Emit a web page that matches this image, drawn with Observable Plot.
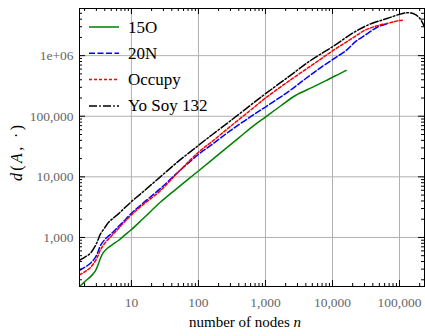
<!DOCTYPE html>
<html><head><meta charset="utf-8">
<script src="https://cdn.jsdelivr.net/npm/d3@7"></script>
<script src="https://cdn.jsdelivr.net/npm/@observablehq/plot@0.6"></script>
<style>body{margin:0;background:#fff} #chart{width:425px;height:336px}</style>
</head><body><div id="chart"></div>
<script>
// ---- data ----
const seriesNames = ["15O", "20N", "Occupy", "Yo Soy 132"];

const n15O = [1.68, 2.0, 2.5, 2.9, 3.2, 3.44, 3.8, 4.3, 5.2, 6.4, 8, 10, 15, 27, 45, 65, 100, 200, 400, 690, 1000, 1700, 2800, 5000, 8000, 10000, 12500, 16000];
const d15O = [155, 185, 230, 280, 360, 450, 560, 650, 760, 890, 1100, 1350, 2050, 3800, 6100, 8500, 12500, 23500, 44000, 72000, 97000, 149000, 220000, 300000, 388000, 440000, 495000, 570000];

const n20N = [1.68, 2.0, 2.45, 2.9, 3.2, 3.44, 4.1, 5.0, 5.8, 7.5, 10, 15, 27, 50, 100, 158, 300, 700, 1000, 2200, 4000, 6600, 10000, 16000, 22000, 32000, 48000, 68000];
const d20N = [285, 320, 375, 470, 590, 730, 950, 1150, 1350, 1800, 2500, 3700, 6400, 12000, 23500, 34000, 58000, 110000, 142000, 255000, 420000, 630000, 860000, 1220000, 1700000, 2250000, 3000000, 3400000];

const nOccupy = [1.68, 2.0, 2.45, 2.9, 3.2, 3.44, 4.1, 5.0, 5.8, 7.5, 10, 15, 27, 50, 100, 158, 300, 700, 1000, 2200, 6600, 10000, 15000, 20600, 30000, 45500, 65000, 85000, 100000, 110000];
const dOccupy = [240, 270, 320, 410, 510, 620, 830, 1050, 1250, 1700, 2350, 3500, 5900, 12000, 25500, 38000, 68000, 145000, 200000, 376000, 870000, 1200000, 1600000, 2000000, 2600000, 3100000, 3400000, 3650000, 3800000, 3850000];

const nYoSoy = [1.68, 2.0, 2.45, 2.9, 3.2, 3.44, 4.0, 4.6, 5.4, 6.4, 8, 10, 15, 27, 50, 100, 158, 300, 700, 1000, 2200, 4700, 10000, 20600, 36000, 65000, 100000, 129000, 150000, 170000, 190000, 205000, 220000, 235000, 250000];
const dYoSoy = [420, 470, 550, 730, 930, 1130, 1450, 1790, 2100, 2450, 3100, 3900, 5700, 10000, 18000, 33000, 49000, 84000, 174000, 235000, 447000, 830000, 1400000, 2400000, 3300000, 4100000, 4800000, 5100000, 5050000, 4800000, 4400000, 4000000, 3500000, 3000000, 2500000];

const xTickValues = [10, 100, 1000, 10000, 100000];
const xTickLabels = ["10", "100", "1,000", "10,000", "100,000"];
const yTickValues = [1000, 10000, 100000, 1000000];
const yTickLabels = ["1,000", "10,000", "100,000", "1e+06"];

// ---- build table ----
const seriesN = [n15O, n20N, nOccupy, nYoSoy];
const seriesD = [d15O, d20N, dOccupy, dYoSoy];
const rows = [];
seriesNames.forEach((s, i) => seriesN[i].forEach((n, j) => rows.push({series: s, n, d: seriesD[i][j]})));

// ---- styles ----
const colors = {"15O": "#008000", "20N": "#0000ff", "Occupy": "#ff0000", "Yo Soy 132": "#000000"};
const dashes = {"15O": null, "20N": "6,2.5", "Occupy": "3,2", "Yo Soy 132": "8,2.2,1.6,2.2"};

const W = 425, H = 336, mL = 79, mR = 1, mT = 8, mB = 50;
const plotW = W - mL - mR, plotH = H - mT - mB;
const xDomain = [1.68, 2.36e5], yDomain = [155, 6.0e6];

const xMinor = [], yMinor = [];
for (let dec = 1; dec <= 1e5; dec *= 10) for (let k = 2; k <= 9; k++) { const v = k * dec; if (v >= xDomain[0] && v <= xDomain[1]) xMinor.push(v); }
for (let dec = 100; dec <= 1e6; dec *= 10) for (let k = 2; k <= 9; k++) { const v = k * dec; if (v >= yDomain[0] && v <= yDomain[1]) yMinor.push(v); }

const xFmt = v => xTickLabels[xTickValues.indexOf(v)];
const yFmt = v => yTickLabels[yTickValues.indexOf(v)];
const grid = {stroke: "#b0b0b0", strokeOpacity: 1, strokeWidth: 1};
const serif = "'Liberation Serif', 'Times New Roman', serif";

const plot = Plot.plot({
  width: W, height: H,
  marginLeft: mL, marginRight: mR, marginTop: mT, marginBottom: mB,
  style: {fontFamily: serif, fontSize: "13.5px", background: "#fff", color: "#000"},
  x: {type: "log", domain: xDomain},
  y: {type: "log", domain: yDomain},
  marks: [
    Plot.gridX(xTickValues, grid),
    Plot.gridY(yTickValues, grid),
    ...seriesNames.map(s => Plot.line(rows.filter(r => r.series === s), {
      x: "n", y: "d", stroke: colors[s], strokeWidth: 1.5,
      strokeDasharray: dashes[s], curve: "catmull-rom", clip: true
    })),
    Plot.tickX(xMinor, {x: d => d, insetTop: plotH - 3, stroke: "#000"}),
    Plot.tickX(xMinor, {x: d => d, insetBottom: plotH - 3, stroke: "#000"}),
    Plot.tickX(xTickValues, {x: d => d, insetTop: plotH - 6, stroke: "#000"}),
    Plot.tickX(xTickValues, {x: d => d, insetBottom: plotH - 6, stroke: "#000"}),
    Plot.tickY(yMinor, {y: d => d, insetRight: plotW - 3, stroke: "#000"}),
    Plot.tickY(yMinor, {y: d => d, insetLeft: plotW - 3, stroke: "#000"}),
    Plot.tickY(yTickValues, {y: d => d, insetRight: plotW - 6, stroke: "#000"}),
    Plot.tickY(yTickValues, {y: d => d, insetLeft: plotW - 6, stroke: "#000"}),
    Plot.frame({stroke: "#000", strokeWidth: 1}),
    Plot.axisX(xTickValues, {tickSize: 0, tickPadding: 11, tickFormat: xFmt, fill: "#666", fontSize: 13.5, label: null}),
    Plot.axisY(yTickValues, {tickSize: 0, tickPadding: 6, tickFormat: yFmt, fill: "#666", fontSize: 13.5, label: null})
  ]
});
document.getElementById("chart").appendChild(plot);

const svg = d3.select(plot);
// legend
const lg = svg.append("g").attr("font-family", serif).attr("font-size", 17).attr("text-anchor", "start");
seriesNames.forEach((s, i) => {
  const y = 27 + i * 26.3;
  lg.append("line").attr("x1", 89).attr("x2", 119).attr("y1", y).attr("y2", y)
    .attr("stroke", colors[s]).attr("stroke-width", 1.5)
    .attr("stroke-dasharray", dashes[s]);
  lg.append("text").attr("x", 128).attr("y", y + 5.5).attr("fill", "#000").attr("text-anchor", "start").text(s);
});
// x axis title
const xt = svg.append("text").attr("x", 245).attr("y", 327).attr("text-anchor", "middle")
  .attr("font-family", serif).attr("font-size", 15).attr("fill", "#000");
xt.append("tspan").text("number of nodes ");
xt.append("tspan").attr("font-style", "italic").text("n");
// y axis title
const yt = svg.append("text").attr("transform", "translate(22,153) rotate(-90)").attr("text-anchor", "middle")
  .attr("font-family", serif).attr("font-size", 16).attr("fill", "#000")
  .attr("textLength", 56).attr("lengthAdjust", "spacing");
yt.append("tspan").attr("font-style", "italic").text("d");
yt.append("tspan").text("(");
yt.append("tspan").attr("font-style", "italic").text("A");
yt.append("tspan").text(", \u00B7)");
</script>
</body></html>
